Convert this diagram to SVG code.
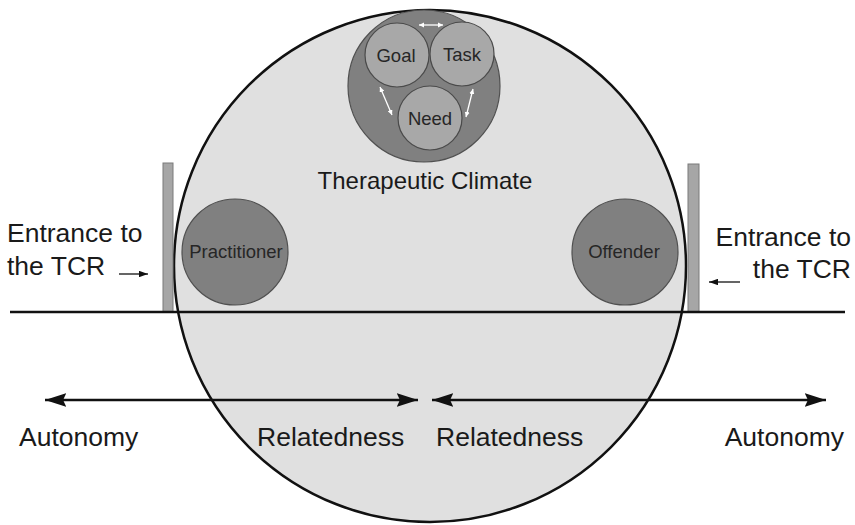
<svg xmlns="http://www.w3.org/2000/svg" width="855" height="525" viewBox="0 0 855 525">
  <defs>
    <style>
      .lbl { font-family: "Liberation Sans", Arial, sans-serif; fill: #1a1a1a; }
      .big { font-size: 26.5px; }
      .node { font-size: 18.5px; fill: #262626; }
      .node-dark { fill: #808080; stroke: #505050; stroke-width: 1.2; }
      .node-light { fill: #a8a8a8; stroke: #4a4a4a; stroke-width: 1.2; }
      .pillar { fill: #a6a6a6; stroke: #7a7a7a; stroke-width: 1; }
      .axis { stroke: #111; stroke-width: 2.5; fill: none; }
      .thin { stroke: #111; stroke-width: 1.3; fill: none; }
      .link { stroke: #ffffff; stroke-width: 1.3; fill: none; }
    </style>
    <marker id="headBig" viewBox="0 0 10 10" refX="10" refY="5" markerWidth="8.5" markerHeight="5.5" markerUnits="strokeWidth" orient="auto-start-reverse" preserveAspectRatio="none">
      <path d="M0,0 L10,5 L0,10 L1.5,5 z" fill="#111"/>
    </marker>
    <marker id="headSmall" viewBox="0 0 10 10" refX="10" refY="5" markerWidth="7" markerHeight="5" markerUnits="strokeWidth" orient="auto-start-reverse" preserveAspectRatio="none">
      <path d="M0,0 L10,5 L0,10 z" fill="#111"/>
    </marker>
    <marker id="headWhite" viewBox="0 0 10 10" refX="10" refY="5" markerWidth="4" markerHeight="4" markerUnits="strokeWidth" orient="auto-start-reverse">
      <path d="M0,0 L10,5 L0,10 z" fill="#ffffff"/>
    </marker>
  </defs>

  <rect width="855" height="525" fill="#ffffff"/>

  <!-- therapeutic relationship space -->
  <g id="climate">
    <circle cx="430" cy="266" r="256" fill="#e0e0e0" stroke="#111" stroke-width="2.5"/>
    <text class="lbl" x="425" y="189" font-size="24" text-anchor="middle">Therapeutic Climate</text>
  </g>

  <!-- doorway posts -->
  <g id="post-left">
    <rect class="pillar" x="163" y="163" width="10" height="149"/>
  </g>
  <g id="post-right">
    <rect class="pillar" x="688" y="164" width="11" height="148"/>
  </g>

  <!-- goal / task / need cluster -->
  <g id="alliance">
    <circle class="node-dark" cx="424" cy="86" r="76"/>
  </g>
  <g id="goal">
    <circle class="node-light" cx="397" cy="55" r="32"/>
    <text class="lbl node" x="396" y="62" text-anchor="middle">Goal</text>
  </g>
  <g id="task">
    <circle class="node-light" cx="462" cy="54" r="32"/>
    <text class="lbl node" x="462" y="61" text-anchor="middle">Task</text>
  </g>
  <g id="need">
    <circle class="node-light" cx="430" cy="118" r="32"/>
    <text class="lbl node" x="430" y="125" text-anchor="middle">Need</text>
  </g>

  <g id="practitioner">
    <circle class="node-dark" cx="235" cy="252" r="53"/>
    <text class="lbl node" x="236" y="258" text-anchor="middle">Practitioner</text>
  </g>
  <g id="offender">
    <circle class="node-dark" cx="625" cy="252" r="53"/>
    <text class="lbl node" x="624" y="258" text-anchor="middle">Offender</text>
  </g>

  <!-- side labels -->
  <g id="entrance-left">
    <text class="lbl big" x="7" y="242">Entrance to</text>
    <text class="lbl big" x="7" y="275">the TCR</text>
  </g>
  <g id="entrance-right">
    <text class="lbl big" x="851" y="246" text-anchor="end">Entrance to</text>
    <text class="lbl big" x="851" y="278" text-anchor="end">the TCR</text>
  </g>

  <g id="axis-labels">
    <text class="lbl big" x="19" y="446">Autonomy</text>
    <text class="lbl big" x="257" y="446">Relatedness</text>
    <text class="lbl big" x="436" y="446">Relatedness</text>
    <text class="lbl big" x="844" y="446" text-anchor="end">Autonomy</text>
  </g>

  <!-- connectors -->
  <g id="connectors">
    <line class="axis" x1="10" y1="312" x2="845" y2="312"/>
    <line class="axis" x1="45" y1="400" x2="418" y2="400" marker-start="url(#headBig)" marker-end="url(#headBig)"/>
    <line class="axis" x1="432" y1="400" x2="826" y2="400" marker-start="url(#headBig)" marker-end="url(#headBig)"/>
    <line class="thin" x1="119" y1="274" x2="148" y2="274" marker-end="url(#headSmall)"/>
    <line class="thin" x1="740" y1="282" x2="709" y2="282" marker-end="url(#headSmall)"/>
    <line class="link" x1="419" y1="25" x2="443" y2="25" marker-start="url(#headWhite)" marker-end="url(#headWhite)"/>
    <line class="link" x1="380" y1="87" x2="392" y2="115" marker-start="url(#headWhite)" marker-end="url(#headWhite)"/>
    <line class="link" x1="473" y1="89" x2="466" y2="117" marker-start="url(#headWhite)" marker-end="url(#headWhite)"/>
  </g>
</svg>
